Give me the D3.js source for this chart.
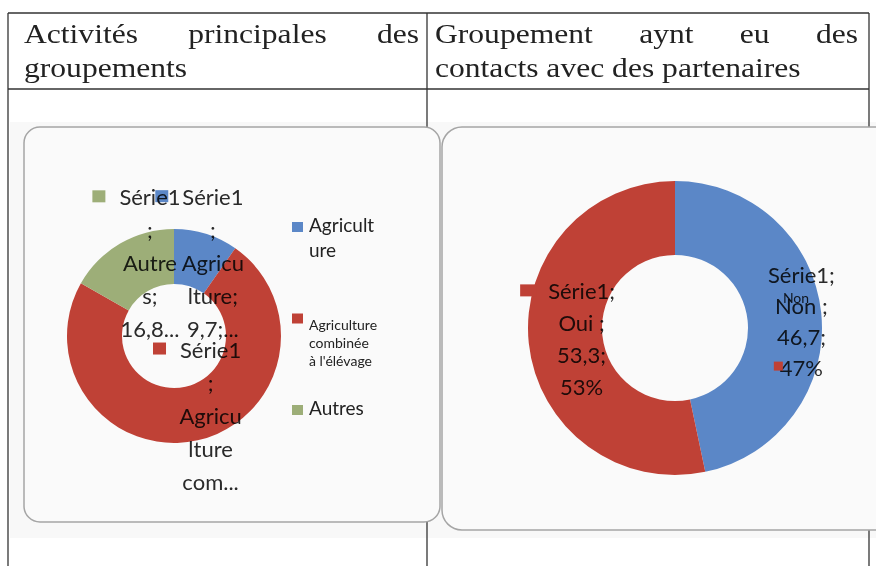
<!DOCTYPE html>
<html>
<head>
<meta charset="UTF-8" />
<script src="https://d3js.org/d3.v7.min.js"></script>
<style>
  body { margin: 0; background: #fff; }
</style>
</head>
<body>
<svg width="876" height="566"></svg>
<script>
// data
const leftCats = ["Agriculture", "Agriculture combinée à l'élévage", "Autres"];
const leftVals = [9.7, 73.5, 16.8];
const leftLegend = [["Agricult", "ure"], ["Agriculture", "combinée", "à l'élévage"], ["Autres"]];
const leftLabels = [
  ["Série1", ";", "Agricu", "lture;", "9,7;..."],
  ["Série1", ";", "Agricu", "lture", "com..."],
  ["Série1", ";", "Autre", "s;", "16,8..."]
];
const rightCats = ["Non", "Oui"];
const rightVals = [46.7, 53.3];
const headLeft = [["Activités", "principales", "des"], ["groupements"]];
const headRight = [["Groupement", "aynt", "eu", "des"], ["contacts avec des partenaires"]];

const leftColors = ["#5b87c7", "#bf4136", "#9dae78"];
const rightColors = ["#5b87c7", "#bf4136"];

const svg = d3.select("svg");
const frac = v => d3.format(".1f")(v).replace(".", ",");

// scanned background
svg.append("rect").attr("x", 10).attr("y", 122).attr("width", 866).attr("height", 416)
  .attr("fill", "#f8f8f8");

// table lines
const line = (x1, y1, x2, y2) => svg.append("line")
  .attr("x1", x1).attr("y1", y1).attr("x2", x2).attr("y2", y2)
  .attr("stroke", "#333").attr("stroke-width", 1.3);
line(8, 13, 869, 13);
line(8, 89, 869, 89);
line(8, 13, 8, 566);
line(427, 13, 427, 566);
line(869, 13, 869, 566);

// header text, stretched serif like the scan
const sx = 1.17;
function headerLine(words, x0, x1, y, justify) {
  const g = svg.append("g");
  const nodes = words.map(w => g.append("text")
    .attr("font-family", "Liberation Serif, Times New Roman, serif")
    .attr("font-size", 27).attr("fill", "#222").text(w));
  const widths = nodes.map(n => n.node().getComputedTextLength() * sx);
  const gap = justify && words.length > 1 ? (x1 - x0 - d3.sum(widths)) / (words.length - 1) : 0;
  let x = x0;
  nodes.forEach((n, i) => {
    n.attr("transform", `translate(${x},${y}) scale(${sx},1)`);
    x += widths[i] + gap;
  });
}
headerLine(headLeft[0], 24, 419, 43, true);
headerLine(headLeft[1], 24, 419, 77, false);
headerLine(headRight[0], 435, 858, 43, true);
headerLine(headRight[1], 435, 858, 77, false);

// chart panels
svg.append("rect").attr("x", 24).attr("y", 127).attr("width", 416).attr("height", 395)
  .attr("rx", 16).attr("fill", "#fafafa").attr("stroke", "#a5a5a5").attr("stroke-width", 1.5);
svg.append("rect").attr("x", 442).attr("y", 127).attr("width", 470).attr("height", 403)
  .attr("rx", 20).attr("fill", "#fafafa").attr("stroke", "#a5a5a5").attr("stroke-width", 1.5);

const pie = d3.pie().sort(null).value(d => d);

// left donut
const lc = { x: 174, y: 336 };
const lArc = d3.arc().innerRadius(52).outerRadius(107);
const lArcs = pie(leftVals);
const gl = svg.append("g").attr("transform", `translate(${lc.x},${lc.y})`);
gl.selectAll("path").data(lArcs).join("path")
  .attr("d", lArc).attr("fill", (d, i) => leftColors[i]);

// right donut
const rc = { x: 675, y: 328 };
const rArc = d3.arc().innerRadius(73).outerRadius(147);
const rArcs = pie(rightVals);
const gr = svg.append("g").attr("transform", `translate(${rc.x},${rc.y})`);
gr.selectAll("path").data(rArcs).join("path")
  .attr("d", rArc).attr("fill", (d, i) => rightColors[i]);

// left legend
const legY = d3.scalePoint().domain(leftCats).range([227, 410]);
leftCats.forEach((c, i) => {
  const y = legY(c);
  const small = i === 1;
  svg.append("rect").attr("x", 292).attr("y", y - 5).attr("width", 11).attr("height", 10)
    .attr("fill", leftColors[i]);
  const t = svg.append("text").attr("font-family", "Lato, sans-serif")
    .attr("font-size", small ? 14 : 19).attr("fill", "#222");
  leftLegend[i].forEach((s, k) => {
    t.append("tspan").attr("x", 309)
      .attr("y", small ? y + 11 + k * 18 : y + 5 + k * 25).text(s);
  });
});

// data labels: anchored to the arc centroid, wrapped like the original
function dataLabel(arcGen, d, center, lines, dx, dy, lh, size, color, mk) {
  const [cx, cy] = arcGen.centroid(d);
  const X = center.x + cx + dx, Y = center.y + cy + dy;
  const g = svg.append("g").style("mix-blend-mode", "multiply");
  lines.forEach((s, k) => {
    const t = g.append("text").attr("x", X).attr("y", Y + k * lh)
      .attr("text-anchor", "middle").attr("font-family", "Lato, sans-serif")
      .attr("font-size", size).attr("fill", "#2a2a2a").text(s);
    if (k === mk.line) {
      const w = t.node().getComputedTextLength();
      svg.append("rect").attr("x", X - w / 2 - mk.gap - mk.w).attr("y", Y + k * lh - mk.top)
        .attr("width", mk.w).attr("height", mk.h).attr("fill", color);
    }
  });
}

const lOff = [[15, -55], [19, -56], [16, -62]];
[0, 1, 2].forEach(i => {
  dataLabel(lArc, lArcs[i], lc, leftLabels[i], lOff[i][0], lOff[i][1], 33, 22, leftColors[i],
    { line: 0, gap: 14, w: 13, h: 12, top: 15 });
});

const rightLabels = rightCats.map((c, i) => [
  "Série1;", c + " ;", frac(rightVals[i]) + ";", Math.round(rightVals[i]) + "%"
]);
dataLabel(rArc, rArcs[0], rc, rightLabels[0], 17, -34, 31, 22, rightColors[1],
  { line: 3, gap: -3, w: 9, h: 9, top: 14 });
dataLabel(rArc, rArcs[1], rc, rightLabels[1], 16, -40, 32, 22, rightColors[1],
  { line: 0, gap: 12, w: 16, h: 12, top: 15 });

// small overlapping "Non" from the hidden category label
svg.append("text").attr("x", 796).attr("y", 303).attr("text-anchor", "middle")
  .attr("font-family", "Lato, sans-serif").attr("font-size", 14)
  .attr("fill", "#2a2a2a").style("mix-blend-mode", "multiply").text(rightCats[0]);
</script>
</body>
</html>
